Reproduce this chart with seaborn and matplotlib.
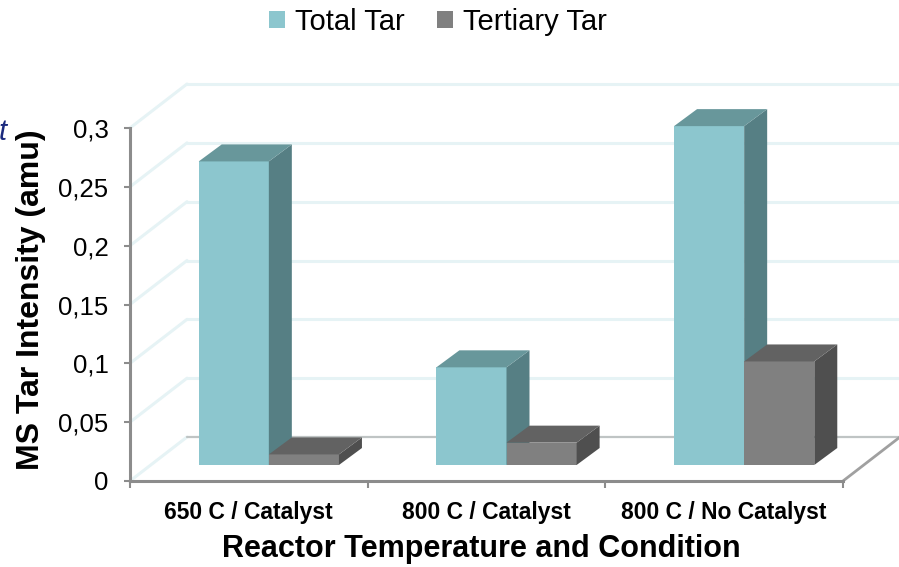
import numpy as np
import pandas as pd
import matplotlib
matplotlib.use("Agg")
import matplotlib.pyplot as plt
import seaborn as sns
from matplotlib.patches import Polygon, Patch
from matplotlib.transforms import offset_copy, IdentityTransform

# ---- data -------------------------------------------------------------
conditions = ["650 C / Catalyst", "800 C / Catalyst", "800 C / No Catalyst"]
series = ["Total Tar", "Tertiary Tar"]
total_tar = [0.258, 0.083, 0.288]
tertiary_tar = [0.009, 0.019, 0.088]
y_ticks = [0, 0.05, 0.1, 0.15, 0.2, 0.25, 0.3]
y_tick_labels = ["0", "0,05", "0,1", "0,15", "0,2", "0,25", "0,3"]

df = pd.DataFrame({
    "Condition": conditions * 2,
    "Series": [series[0]] * 3 + [series[1]] * 3,
    "Intensity": total_tar + tertiary_tar,
})

front_col = {"Total Tar": "#8CC6CE", "Tertiary Tar": "#808080"}
side_col = {"Total Tar": "#567F84", "Tertiary Tar": "#4F4F4F"}
top_col = {"Total Tar": "#68979B", "Tertiary Tar": "#626262"}

sns.set_theme(style="white")
plt.rcParams["font.family"] = ["Liberation Sans", "DejaVu Sans"]
plt.rcParams["text.color"] = "black"
plt.rcParams["axes.labelcolor"] = "black"
plt.rcParams["xtick.labelcolor"] = "black"
plt.rcParams["ytick.labelcolor"] = "black"

W, H, DPI = 899, 567, 100
fig = plt.figure(figsize=(W / DPI, H / DPI), dpi=DPI)
ax = fig.add_axes([130 / W, 86 / H, 713 / W, 353 / H])

sns.barplot(data=df, x="Condition", y="Intensity", hue="Series",
            hue_order=series, palette=front_col, width=0.59,
            saturation=1, ax=ax, legend=False)
ax.set_xlim(-0.5, 2.5)
ax.set_ylim(0, 0.3)

# depth of the box (walls) and of the bars, in pixels
wall_dx, wall_dy = 57, 44
bar_dx, bar_dy = 20, 16
box_dx, box_dy = 23, 17

wall_tr = offset_copy(ax.transData, fig=fig, x=wall_dx, y=wall_dy, units="dots")
bar_tr = offset_copy(ax.transData, fig=fig, x=bar_dx, y=bar_dy, units="dots")

# back wall gridlines and left wall diagonals
grid_c = "#E6F3F5"
for v in y_ticks:
    if v == 0:
        continue
    ax.plot([-0.5, 2.5], [v, v], transform=wall_tr, color=grid_c, lw=2.2,
            clip_on=False, zorder=0.5)
    p0 = ax.transData.transform((-0.5, v))
    ax.add_line(plt.Line2D([p0[0], p0[0] + wall_dx], [p0[1], p0[1] + wall_dy],
                           transform=IdentityTransform(), color=grid_c, lw=2.2,
                           clip_on=False, zorder=0.5))
# floor edges
ax.plot([-0.5, 2.5], [0, 0], transform=wall_tr, color="#BFC4C4", lw=1.6,
        clip_on=False, zorder=0.6)
p0 = ax.transData.transform((-0.5, 0))
ax.add_line(plt.Line2D([p0[0], p0[0] + wall_dx], [p0[1], p0[1] + wall_dy],
                       transform=IdentityTransform(), color=grid_c, lw=2.2,
                       clip_on=False, zorder=0.5))
p1 = ax.transData.transform((2.5, 0))
ax.add_line(plt.Line2D([p1[0], p1[0] + wall_dx], [p1[1], p1[1] + wall_dy],
                       transform=IdentityTransform(), color="#A0A0A0", lw=2,
                       clip_on=False, zorder=0.6))

# bars: shift into the box and give them side and top faces
bars = list(ax.patches)
n = len(conditions)
fig.canvas.draw()
for i, bar in enumerate(bars):
    s = series[i // n]
    g = i % n
    z = 2 + g * 10 + (i // n) * 3
    bar.set_transform(bar_tr)
    bar.set_zorder(z)
    bar.set_edgecolor("none")
    bar.set_clip_on(False)
    x0, y0 = bar.get_x(), bar.get_y()
    x1, y1 = x0 + bar.get_width(), y0 + bar.get_height()
    (px0, py0), (px1, py1) = bar_tr.transform([(x0, y0), (x1, y1)])
    side = [(px1, py0), (px1, py1), (px1 + box_dx, py1 + box_dy),
            (px1 + box_dx, py0 + box_dy)]
    top = [(px0, py1), (px1, py1), (px1 + box_dx, py1 + box_dy),
           (px0 + box_dx, py1 + box_dy)]
    ax.add_patch(Polygon(side, closed=True, facecolor=side_col[s],
                         edgecolor="none", transform=IdentityTransform(),
                         clip_on=False, zorder=z + 1))
    ax.add_patch(Polygon(top, closed=True, facecolor=top_col[s],
                         edgecolor="none", transform=IdentityTransform(),
                         clip_on=False, zorder=z + 2))

# axes styling
for sp in ["top", "right"]:
    ax.spines[sp].set_visible(False)
for sp in ["left", "bottom"]:
    ax.spines[sp].set_color("#8C8C8C")
    ax.spines[sp].set_linewidth(2.2)
    ax.spines[sp].set_zorder(40)

ax.set_yticks(y_ticks)
ax.set_yticklabels(y_tick_labels, fontsize=18.5)
ax.tick_params(axis="y", direction="out", length=4.5, width=1.5,
               color="#8C8C8C", pad=11, left=True)

ax.set_xticks([-0.5, 0.5, 1.5, 2.5])
ax.set_xticklabels([])
ax.set_xticks([0, 1, 2], minor=True)
ax.set_xticklabels(conditions, minor=True, fontsize=16.5, fontweight="bold")
ax.tick_params(axis="x", which="major", direction="out", length=5, width=1.5,
               color="#8C8C8C", bottom=True)
ax.tick_params(axis="x", which="minor", length=0, pad=14.5)

ax.set_ylabel("MS Tar Intensity (amu)", fontsize=23, fontweight="bold")
ax.yaxis.set_label_coords((31 - 130) / 713, (481 - 300) / 353)
ax.set_xlabel("Reactor Temperature and Condition", fontsize=22,
              fontweight="bold")
ax.xaxis.set_label_coords((481 - 130) / 713, (481 - 549) / 353)
ax.xaxis.label.set_va("center")
ax.yaxis.label.set_va("center")

handles = [Patch(facecolor=front_col[s], edgecolor="none", label=s) for s in series]
fig.legend(handles=handles, loc="center", bbox_to_anchor=(438 / W, 1 - 22 / H),
           ncol=2, frameon=False, fontsize=21, handlelength=0.55,
           handleheight=0.55, handletextpad=0.35, columnspacing=1.1)

fig.text(-1 / W, 1 - 132 / H, "t", fontsize=21, fontstyle="italic",
         color="#1B2A7E", ha="left", va="center")

fig.savefig("out.png", dpi=DPI, facecolor="white")
